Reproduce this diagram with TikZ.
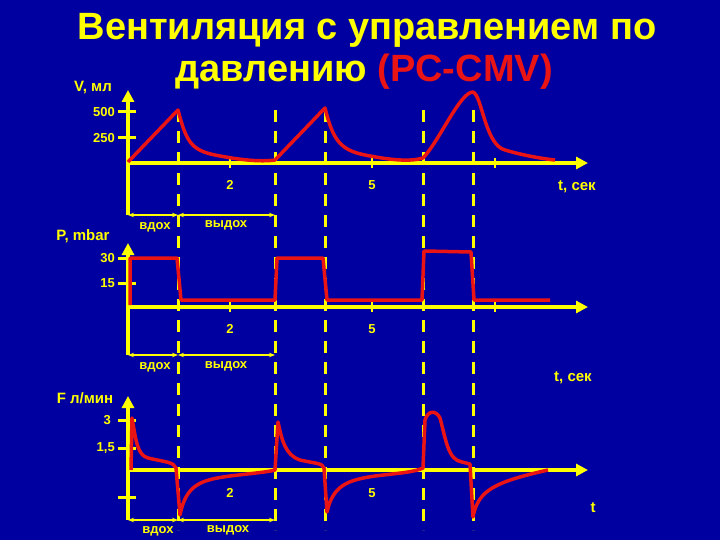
\documentclass[tikz,border=0pt]{standalone}
\usepackage{fontspec}
\setmainfont{Liberation Sans}
\usetikzlibrary{arrows.meta}
\definecolor{bg}{RGB}{0,0,160}
\definecolor{yl}{RGB}{255,255,0}
\definecolor{rd}{RGB}{235,20,20}
\begin{document}
\begin{tikzpicture}[x=1pt,y=-1pt,
  axis/.style={yl,line width=3.5pt,-{Triangle[length=12pt,width=12pt]}},
  tk/.style={yl,line width=3pt},
  dsh/.style={yl,line width=3pt,dash pattern=on 12pt off 9pt},
  sp/.style={yl,line width=1.5pt,{Stealth[length=6pt]}-{Stealth[length=6pt]}},
  crv/.style={rd,line width=3.5pt,line join=round},
  lbl/.style={yl,font=\bfseries\fontsize{15}{15}\selectfont,inner sep=1pt},
  sm/.style={yl,font=\bfseries\fontsize{13}{13}\selectfont,inner sep=1pt},
  ttl/.style={yl,font=\bfseries\fontsize{38}{40}\selectfont,inner sep=0pt}]
\useasboundingbox (0,0) rectangle (720,540);
\fill[bg] (0,0) rectangle (720,540);
% title
\node[ttl] (t1) at (367,30) {Вентиляция с управлением по};
\node[ttl] (t2) at (364,72) {давлению \textcolor{rd}{(PC-CMV)}};
% dashed lines
\foreach \x/\n in {178/a,275/b,325/c,423/d,473/e}{
  \coordinate (d\n1) at (\x,110); \coordinate (d\n2) at (\x,530);
  \draw[dsh] (d\n1) -- (d\n2);}
% ---------- panel 1
\node[lbl] (vl) at (93,88) {V, мл};
\coordinate (o1) at (128,215); \coordinate (v1) at (128,90);
\coordinate (h0) at (128,163); \coordinate (h1) at (588,163);
\draw[axis] (o1) -- (v1);
\draw[axis] (h0) -- (h1);
\coordinate (k1a) at (118,112); \coordinate (k1b) at (136,112);
\coordinate (k2a) at (118,138); \coordinate (k2b) at (136,138);
\draw[tk] (k1a) -- (k1b); \draw[tk] (k2a) -- (k2b);
\node[sm,anchor=east] (l500) at (116,112) {500};
\node[sm,anchor=east] (l250) at (116,138) {250};
\foreach \x/\n in {230/p,372/q,495/r}{\coordinate (u\n) at (\x,158); \coordinate (w\n) at (\x,168); \draw[yl,line width=1.5pt] (u\n) -- (w\n);}
\node[sm] (n2a) at (230,185) {2};
\node[sm] (n5a) at (372,185) {5};
\node[lbl] (ts1) at (577,187) {t, сек};
\draw[crv] (128,162) -- (178,110) .. controls (186,140) and (190,150) .. (215,155) .. controls (240,160) and (260,162) .. (275,160)
  -- (325,108) .. controls (333,140) and (340,150) .. (365,155) .. controls (390,160) and (410,162) .. (423,158)
  .. controls (440,140) and (460,92) .. (473,92) .. controls (482,95) and (485,145) .. (505,150) .. controls (525,156) and (545,159) .. (555,160);
\coordinate (s1a) at (128,215); \coordinate (s1b) at (178,215); \coordinate (s1c) at (275,215);
\draw[sp] (s1a) -- (s1b); \draw[sp] (s1b) -- (s1c);
\node[sm] (in1) at (155,227) {вдох};
\node[sm] (ex1) at (226,225) {выдох};
% ---------- panel 2
\node[lbl] (pl) at (83,236) {P, mbar};
\coordinate (o2) at (128,355); \coordinate (v2) at (128,243);
\coordinate (g0) at (128,307); \coordinate (g1) at (588,307);
\draw[axis] (o2) -- (v2);
\draw[axis] (g0) -- (g1);
\coordinate (m1a) at (118,258); \coordinate (m1b) at (136,258);
\coordinate (m2a) at (118,283); \coordinate (m2b) at (136,283);
\draw[tk] (m1a) -- (m1b); \draw[tk] (m2a) -- (m2b);
\node[sm,anchor=east] (l30) at (116,258) {30};
\node[sm,anchor=east] (l15) at (116,283) {15};
\foreach \x/\n in {230/p,372/q,495/r}{\coordinate (y\n) at (\x,302); \coordinate (z\n) at (\x,312); \draw[yl,line width=1.5pt] (y\n) -- (z\n);}
\node[sm] (n2b) at (230,329) {2};
\node[sm] (n5b) at (372,329) {5};
\draw[crv] (130,305) -- (130,258) -- (177,258) -- (181,300) -- (275,300) -- (277,258) -- (323,258) -- (327,300)
  -- (422,300) -- (424,251) -- (471,252) -- (474,300) -- (550,300);
\coordinate (s2a) at (128,355); \coordinate (s2b) at (178,355); \coordinate (s2c) at (275,355);
\draw[sp] (s2a) -- (s2b); \draw[sp] (s2b) -- (s2c);
\node[sm] (in2) at (155,367) {вдох};
\node[sm] (ex2) at (226,366) {выдох};
\node[lbl] (ts2) at (573,378) {t, сек};
% ---------- panel 3
\node[lbl] (fl) at (85,398) {F л/мин};
\coordinate (o3) at (128,520); \coordinate (v3) at (128,396);
\coordinate (f0) at (128,470); \coordinate (f1) at (588,470);
\draw[axis] (o3) -- (v3);
\draw[axis] (f0) -- (f1);
\coordinate (q1a) at (118,420); \coordinate (q1b) at (136,420);
\coordinate (q2a) at (118,448); \coordinate (q2b) at (136,448);
\coordinate (q3a) at (118,497); \coordinate (q3b) at (136,497);
\draw[tk] (q1a) -- (q1b); \draw[tk] (q2a) -- (q2b); \draw[tk] (q3a) -- (q3b);
\node[sm,anchor=east] (l3) at (112,420) {3};
\node[sm,anchor=east] (l15b) at (116,448) {1,5};
\node[sm] (n2c) at (230,493) {2};
\node[sm] (n5c) at (372,493) {5};
\draw[crv] (131,470) -- (132,418) .. controls (136,440) and (137,455) .. (148,458) .. controls (165,462) and (174,462) .. (176,468)
  -- (180,515) .. controls (186,485) and (200,480) .. (230,476) .. controls (255,473) and (268,472) .. (275,470)
  -- (278,422) .. controls (282,440) and (285,455) .. (300,460) .. controls (318,464) and (322,463) .. (324,468)
  -- (327,512) .. controls (333,485) and (348,480) .. (375,476) .. controls (400,473) and (415,472) .. (423,468)
  -- (425,420) .. controls (428,410) and (436,410) .. (440,418) .. controls (446,440) and (448,460) .. (462,462) -- (470,464)
  -- (473,517) .. controls (478,490) and (495,482) .. (548,470);
\coordinate (s3a) at (128,520); \coordinate (s3b) at (178,520); \coordinate (s3c) at (275,520);
\draw[sp] (s3a) -- (s3b); \draw[sp] (s3b) -- (s3c);
\node[sm] (in3) at (158,531) {вдох};
\node[sm] (ex3) at (228,530) {выдох};
\node[lbl] (ts3) at (593,508) {t};
\end{tikzpicture}
\end{document}
